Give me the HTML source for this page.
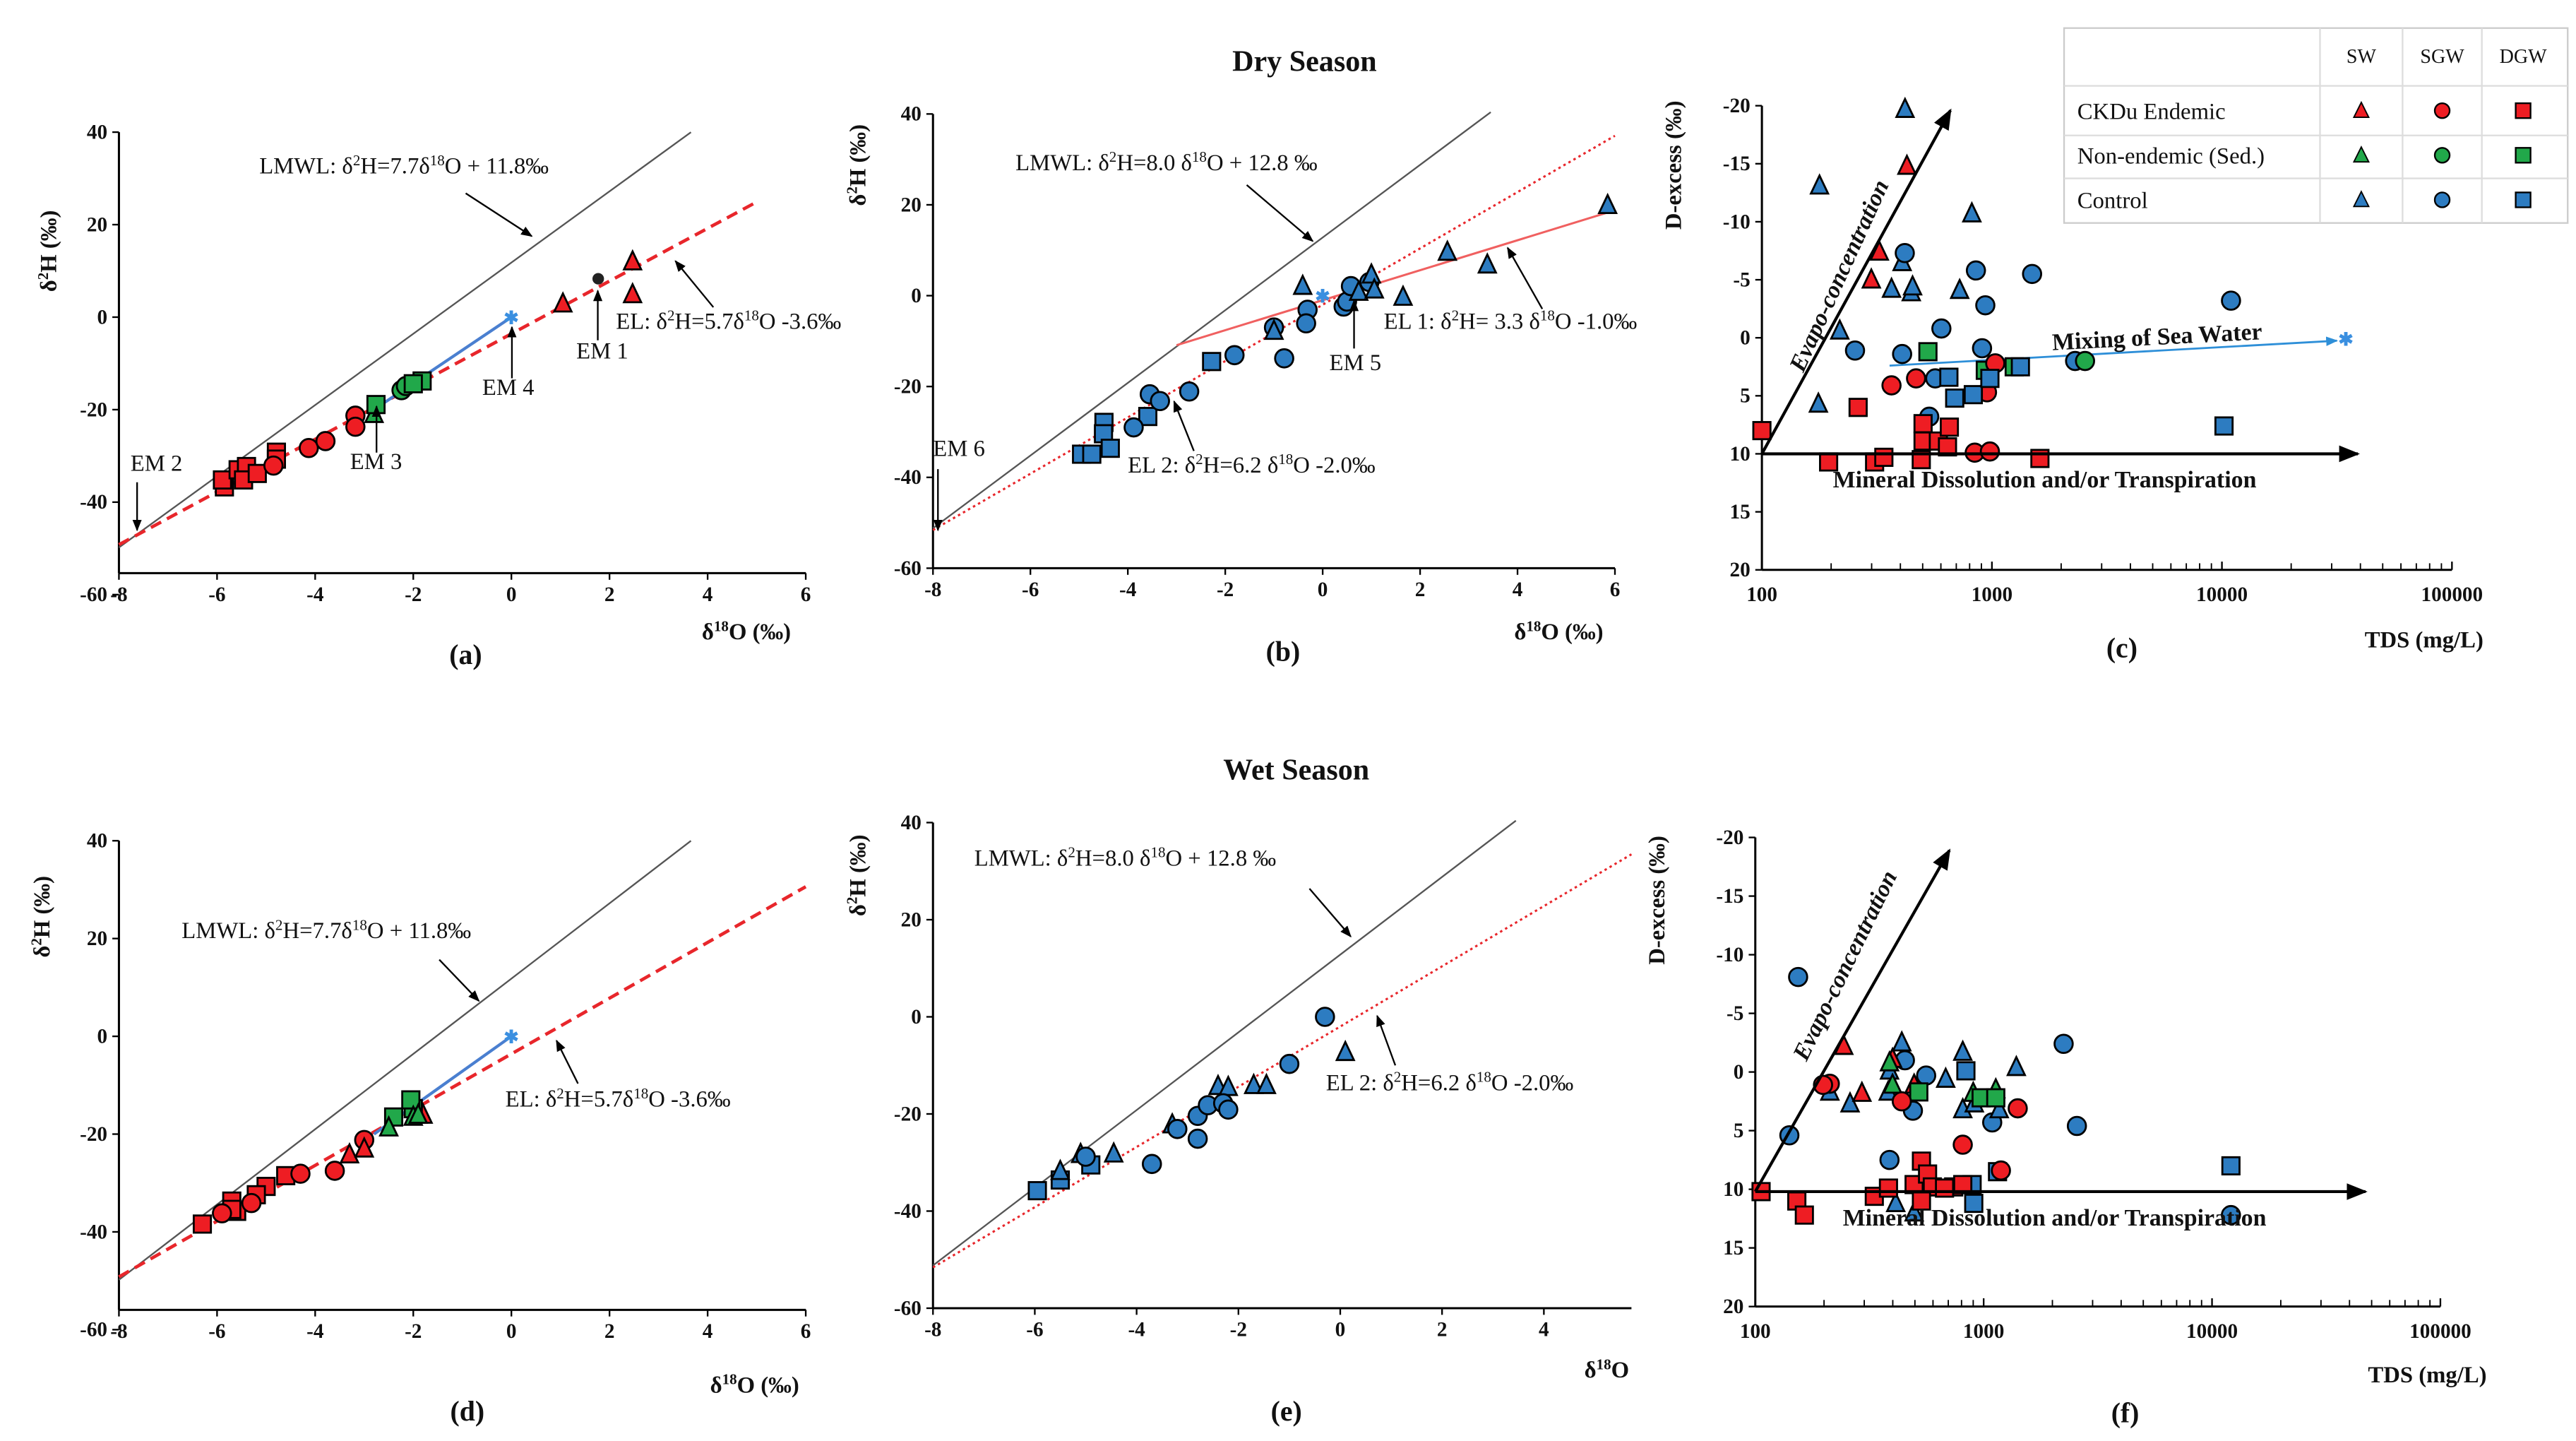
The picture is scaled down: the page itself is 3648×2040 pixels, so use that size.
<!DOCTYPE html>
<html><head><meta charset="utf-8"><title>Isotope charts</title>
<style>
html,body{margin:0;padding:0;background:#fff;}
svg{display:block;}
text{font-family:"Liberation Serif",serif;fill:#111;}
.tk{font-size:12.5px;font-weight:bold;}
.ann{font-size:14px;}
.bold{font-weight:bold;}
</style></head>
<body>
<svg id="fig" xmlns="http://www.w3.org/2000/svg" width="3648" height="2040" viewBox="0 0 1560 872.4">
<defs>
<marker id="ah" viewBox="0 0 10 10" refX="9" refY="5" markerWidth="7" markerHeight="7" orient="auto-start-reverse"><path d="M0,1 L10,5 L0,9 z" fill="#000"/></marker>
<marker id="ahb" viewBox="0 0 10 10" refX="9" refY="5" markerWidth="6" markerHeight="6" orient="auto"><path d="M0,1 L10,5 L0,9 z" fill="#2e8fd8"/></marker>
</defs>
<g id="root"></g>
</svg>
<script>
// ---------- DATA (panel a: dry season, δ18O vs δ2H) ----------
const aRedSquares=[[-5.85,-36.7],[-5.89,-35.2],[-5.57,-33.0],[-5.4,-32.3],[-5.46,-35.2],[-5.18,-33.8],[-4.79,-29.2],[-4.79,-30.7]];
const aRedCircles=[[-4.85,-32.1],[-4.13,-28.3],[-3.79,-26.8],[-3.18,-21.3],[-3.18,-23.7]];
const aRedTriangles=[[1.05,2.9],[2.47,12.0],[2.47,4.9]];
const aBlackCircles=[[1.77,8.3]];
const aGreenSquares=[[-2.76,-18.9],[-1.82,-13.8],[-2.0,-14.4]];
const aGreenCircles=[[-2.24,-15.8],[-2.15,-14.9]];
const aGreenTriangles=[[-2.8,-21]];
const aStar=[[0,0]];
// panel b
const bBlueSquares=[[-4.95,-34.9],[-4.74,-34.9],[-4.49,-27.9],[-4.5,-30.4],[-4.36,-33.6],[-3.59,-26.6],[-2.28,-14.5]];
const bBlueCircles=[[-3.88,-29.0],[-3.55,-21.7],[-3.34,-23.2],[-2.74,-21.1],[-1.81,-13.1],[-1.0,-7.0],[-0.79,-13.8],[-0.31,-3.1],[-0.34,-6.1],[0.43,-2.4],[0.5,-1.3],[0.58,2.1],[0.96,3.0]];
const bBlueTriangles=[[-0.41,2.1],[-1.0,-7.8],[0.74,0.8],[1.0,4.6],[1.06,1.3],[1.65,-0.3],[2.56,9.6],[3.38,6.8],[5.85,19.9]];
const bStar=[[0,0]];
// panel c (TDS mg/L, d-excess)
const cBlueTriangles=[[419,-19.7],[178,-13.1],[818,-10.7],[407,-6.5],[366,-4.2],[446,-3.9],[452,-4.4],[724,-4.1],[218,-0.6],[176,5.7]];
const cRedTriangles=[[427,-14.8],[324,-7.4],[299,-5.0]];
const cBlueCircles=[[418,-7.3],[852,-5.8],[1495,-5.5],[936,-2.8],[603,-0.8],[254,1.1],[407,1.4],[906,0.9],[567,3.5],[534,6.8],[10950,-3.2],[2300,2.0]];
const cGreenCircles=[[2540,2.0]];
const cGreenSquares=[[527,1.2],[936,2.8],[1250,2.5]];
const cRedCircles=[[366,4.1],[468,3.5],[952,4.7],[1034,2.2],[842,9.9],[980,9.8]];
const cBlueSquares=[[650,3.4],[689,5.2],[830,4.9],[980,3.5],[1330,2.5],[10210,7.6]];
const cRedSquares=[[100,8.0],[262,6.0],[502,7.4],[502,8.9],[585,8.9],[653,7.7],[641,9.4],[195,10.7],[309,10.7],[339,10.3],[493,10.5],[1617,10.4]];
const cSeaStar=[[34600,0.1]];
// panel d
const dRedSquares=[[-6.3,-38.4],[-5.7,-33.7],[-5.6,-35.8],[-5.0,-30.7],[-5.2,-32.4],[-4.6,-28.5],[-5.7,-35.4]];
const dRedCircles=[[-5.9,-36.2],[-5.3,-34.1],[-4.3,-28.1],[-3.6,-27.5],[-3.0,-21.2]];
const dRedTriangles=[[-3.3,-24.2],[-3.0,-23.0],[-1.8,-16.1]];
const dGreenTriangles=[[-2.5,-18.7],[-2.0,-16.5],[-1.9,-16.1]];
const dGreenSquares=[[-2.4,-16.5],[-2.0,-14.8],[-2.05,-13.0]];
const dStar=[[0,0]];
// panel e
const eBlueSquares=[[-5.95,-35.8],[-5.5,-33.6],[-4.9,-30.5]];
const eBlueTriangles=[[-5.5,-31.8],[-5.1,-28.3],[-4.45,-28.2],[-3.3,-22.2],[-2.4,-14.3],[-2.2,-14.5],[-1.7,-14.1],[-1.45,-14.1],[0.1,-7.3]];
const eBlueCircles=[[-5.0,-28.8],[-3.7,-30.3],[-3.2,-23.1],[-2.8,-20.4],[-2.8,-25.1],[-2.6,-18.2],[-2.3,-17.8],[-2.2,-19.1],[-1.0,-9.7],[-0.3,0]];
// panel f
const fBlueCircles=[[154,-8.1],[141,5.4],[452,-1.0],[560,0.3],[490,3.3],[1090,4.3],[2240,-2.4],[2560,4.6],[387,7.5],[12100,12.2]];
const fBlueTriangles=[[438,-2.5],[387,-0.1],[382,1.7],[212,1.7],[260,2.7],[682,0.6],[810,-1.7],[810,3.2],[910,2.7],[1170,3.2],[1390,-0.4],[412,11.2],[496,12.0]];
const fRedTriangles=[[244,-2.2],[293,1.8],[399,-1.1],[496,1.1]];
const fGreenTriangles=[[387,-0.8],[399,1.1],[1130,1.5],[900,1.8]];
const fGreenSquares=[[520,1.7],[975,2.2],[1130,2.2]];
const fBlueSquares=[[836,-0.1],[890,9.6],[905,11.2],[1150,8.5],[12100,8.0]];
const fRedCircles=[[212,1.0],[438,2.5],[810,6.2],[1410,3.1],[1190,8.4],[198,1.1]];
const fRedSquares=[[106,10.2],[152,11.0],[164,12.2],[332,10.6],[383,9.9],[496,9.6],[534,7.6],[568,8.7],[596,9.8],[534,11.0],[739,9.8],[674,9.9],[810,9.6]];
// tick labels
const isoXTicks=[-8,-6,-4,-2,0,2,4,6];
const isoXTicksE=[-8,-6,-4,-2,0,2,4];
const isoYTicks=[40,20,0,-20,-40,-60];
const tdsXTicks=[100,1000,10000,100000];
const dexYTicks=[-20,-15,-10,-5,0,5,10,15,20];
// lines (slope, intercept)
const lmwlA=[7.7,11.8], elA=[5.7,-3.6], lmwlB=[8.0,12.8], el1B=[3.3,-1.0], el2B=[6.2,-2.0];

// ---------- DRAWING ----------
const NS="http://www.w3.org/2000/svg";
const root=document.getElementById('root');
const RED="#ee1d23",GREEN="#21a84a",BLUE="#2d7cc1";
function el(tag,attrs,parent){const e=document.createElementNS(NS,tag);for(const k in attrs)e.setAttribute(k,attrs[k]);(parent||root).appendChild(e);return e;}
function txt(x,y,s,cls,extra,parent){const t=el('text',Object.assign({x:x,y:y,class:cls||''},extra||{}),parent);t.innerHTML=s;return t;}

function isoAxes(px0,kx,py40,ky){return {X:v=>px0+(v+8)*kx,Y:v=>py40+(40-v)*ky};}
function logAxes(px100,kd,pyTop,ky){return {X:v=>px100+(Math.log10(v)-2)*kd,Y:v=>pyTop+(v+20)*ky};}

function marker(g,shape,color,x,y,name){
  let m;const r=5.2;
  if(shape==='sq') m=el('rect',{x:x-r,y:y-r,width:2*r,height:2*r,fill:color,stroke:'#000','stroke-width':1.2},g);
  else if(shape==='ci') m=el('circle',{cx:x,cy:y,r:r+0.3,fill:color,stroke:'#000','stroke-width':1.2},g);
  else if(shape==='tr') m=el('polygon',{points:`${x},${y-r-1} ${x+r},${y+r-0.5} ${x-r},${y+r-0.5}`,fill:color,stroke:'#000','stroke-width':1.2},g);
  else if(shape==='st'){m=el('text',{x:x,y:y+4,'text-anchor':'middle','font-size':'11px',style:'fill:#3a8fe0;font-weight:bold'},g);m.textContent='✱';}
  
  
}
function series(g,ax,data,shape,color,name){data.forEach(d=>marker(g,shape,color,ax.X(d[0]),ax.Y(d[1]),name));}
function fitLine(g,ax,coef,x0,x1,style,name){
  const l=el('line',Object.assign({x1:ax.X(x0),y1:ax.Y(coef[0]*x0+coef[1]),x2:ax.X(x1),y2:ax.Y(coef[0]*x1+coef[1])},style),g);
  
  
}
function arrow(g,x1,y1,x2,y2,w,name){
  const l=el('line',{x1:x1,y1:y1,x2:x2,y2:y2,stroke:'#000','stroke-width':w||1,'marker-end':'url(#ah)'},g);
  
  
}

function isoFrame(g,ax,xt,axisY,xEnd){
  el('line',{x1:ax.X(-8),y1:ax.Y(40),x2:ax.X(-8),y2:axisY,stroke:'#000','stroke-width':1.3},g);
  el('line',{x1:ax.X(-8),y1:axisY,x2:xEnd,y2:axisY,stroke:'#000','stroke-width':1.3},g);
  xt.forEach(v=>{el('line',{x1:ax.X(v),y1:axisY,x2:ax.X(v),y2:axisY+4,stroke:'#000'},g);
    const t=txt(ax.X(v),axisY+17,String(v),'tk',{'text-anchor':'middle'},g);
    
    });
  isoYTicks.forEach(v=>{el('line',{x1:ax.X(-8)-4,y1:ax.Y(v),x2:ax.X(-8),y2:ax.Y(v),stroke:'#000'},g);
    const t=txt(ax.X(-8)-7,ax.Y(v)+4,String(v),'tk',{'text-anchor':'end'},g);
    
    });
}
function logFrame(g,ax){
  const x0=ax.X(100),x1=ax.X(100000),y0=ax.Y(-20),y1=ax.Y(20);
  el('line',{x1:x0,y1:y0,x2:x0,y2:y1,stroke:'#000','stroke-width':1.3},g);
  el('line',{x1:x0,y1:y1,x2:x1,y2:y1,stroke:'#000','stroke-width':1.3},g);
  for(let d=100;d<100000;d*=10)for(let k=2;k<=9;k++){el('line',{x1:ax.X(d*k),y1:y1,x2:ax.X(d*k),y2:y1-4,stroke:'#000','stroke-width':0.8},g);}
  tdsXTicks.forEach(v=>{el('line',{x1:ax.X(v),y1:y1,x2:ax.X(v),y2:y1-5,stroke:'#000'},g);
    const t=txt(ax.X(v),y1+19,String(v),'tk',{'text-anchor':'middle'},g);
    
    });
  dexYTicks.forEach(v=>{el('line',{x1:x0-4,y1:ax.Y(v),x2:x0,y2:ax.Y(v),stroke:'#000'},g);
    const t=txt(x0-7,ax.Y(v)+4,String(v),'tk',{'text-anchor':'end'},g);
    
    });
}
function grp(name){const g=el('g',{});return g;}
const D2H='δ<tspan font-size="9" dy="-5">2</tspan><tspan dy="5">H</tspan>';
const D18='δ<tspan font-size="9" dy="-5">18</tspan><tspan dy="5">O</tspan>';

let t=txt(790,43,'Dry Season','bold',{'text-anchor':'middle','font-size':'18px'});
t=txt(785,472,'Wet Season','bold',{'text-anchor':'middle','font-size':'18px'});

function yLabelIso(g,x,y){const t=txt(0,0,'δ<tspan font-size="9" dy="-5">2</tspan><tspan dy="5">H (‰)</tspan>','bold',{'font-size':'14px','text-anchor':'middle',transform:`translate(${x},${y}) rotate(-90)`},g);}
function xLabelIso(g,x,y,s){const t=txt(x,y,s,'bold',{'font-size':'14px','text-anchor':'middle'},g);}
function panelLabel(g,x,y,s){const t=txt(x,y,s,'bold',{'font-size':'17px','text-anchor':'middle'},g);}
function ann(g,x,y,s,name,size){const t=txt(x,y,s,'ann',{'font-size':(size||14)+'px'},g);}

// ----- panel a -----
(function(){
 const g=grp('panel-a');const ax=isoAxes(72,29.71,80,2.8);
 isoFrame(g,ax,isoXTicks,347,488);
 fitLine(g,ax,lmwlA,-8,3.66,{stroke:'#555','stroke-width':1},'lmwl-line');
 fitLine(g,ax,elA,-8,5,{stroke:'#e8262b','stroke-width':2,'stroke-dasharray':'7,4'},'evaporation-line');
 const bl=el('line',{x1:ax.X(-2.8),y1:ax.Y(-20),x2:ax.X(0),y2:ax.Y(0),stroke:'#4a7fd0','stroke-width':1.8},g);
 series(g,ax,aRedSquares,'sq',RED,'ckdu-dgw-point');
 series(g,ax,aRedCircles,'ci',RED,'ckdu-sgw-point');
 series(g,ax,aGreenTriangles,'tr',GREEN,'nonendemic-sw-point');
 series(g,ax,aGreenCircles,'ci',GREEN,'nonendemic-sgw-point');
 series(g,ax,aGreenSquares,'sq',GREEN,'nonendemic-dgw-point');
 series(g,ax,aRedTriangles,'tr',RED,'ckdu-sw-point');
 aBlackCircles.forEach(d=>{const c=el('circle',{cx:ax.X(d[0]),cy:ax.Y(d[1]),r:3.5,fill:'#222'},g);});
 series(g,ax,aStar,'st',BLUE,'em4-star');
 ann(g,157,105,'LMWL: '+D2H+'=7.7'+D18+' + 11.8‰','lmwl-label');
 arrow(g,282,117,322,143,1,'lmwl-arrow');
 ann(g,373,199,'EL: '+D2H+'=5.7'+D18+' -3.6‰','el-label');
 arrow(g,432,186,409,158,1,'el-arrow');
 ann(g,349,217,'EM 1','em1-label',13);arrow(g,362,206,362,176,1,'em1-arrow');
 ann(g,292,239,'EM 4','em4-label',13);arrow(g,310,229,310,198,1,'em4-arrow');
 ann(g,212,284,'EM 3','em3-label',13);arrow(g,228,274,228,246,1,'em3-arrow');
 ann(g,79,285,'EM 2','em2-label',13);arrow(g,83,292,83,321,1,'em2-arrow');
 yLabelIso(g,34,152);xLabelIso(g,452,387,'δ<tspan font-size="9" dy="-5">18</tspan><tspan dy="5">O (‰)</tspan>');panelLabel(g,282,402,'(a)');
})();
// ----- panel b -----
(function(){
 const g=grp('panel-b');const ax=isoAxes(565,29.5,69,2.75);
 isoFrame(g,ax,isoXTicks,344,978);
 fitLine(g,ax,lmwlB,-8,3.45,{stroke:'#555','stroke-width':1},'lmwl-line');
 fitLine(g,ax,el2B,-8,6,{stroke:'#e8262b','stroke-width':1.3,'stroke-dasharray':'1.5,2'},'el2-line');
 fitLine(g,ax,el1B,-3.0,5.85,{stroke:'#f06060','stroke-width':1.3},'el1-line');
 series(g,ax,bBlueSquares,'sq',BLUE,'control-dgw-point');
 series(g,ax,bBlueCircles,'ci',BLUE,'control-sgw-point');
 series(g,ax,bBlueTriangles,'tr',BLUE,'control-sw-point');
 series(g,ax,bStar,'st',BLUE,'em5-star');
 ann(g,615,103,'LMWL: '+D2H+'=8.0 '+D18+' + 12.8 ‰','lmwl-label');
 arrow(g,755,112,795,146,1,'lmwl-arrow');
 ann(g,838,199,'EL 1: '+D2H+'= 3.3 '+D18+' -1.0‰','el1-label');
 arrow(g,934,187,913,150,1,'el1-arrow');
 ann(g,805,224,'EM 5','em5-label',13);arrow(g,820,211,820,182,1,'em5-arrow');
 ann(g,683,286,'EL 2: '+D2H+'=6.2 '+D18+' -2.0‰','el2-label');
 arrow(g,723,273,711,243,1,'el2-arrow');
 ann(g,565,276,'EM 6','em6-label',13);arrow(g,568,284,568,321,1,'em6-arrow');
 yLabelIso(g,524,100);xLabelIso(g,944,387,'δ<tspan font-size="9" dy="-5">18</tspan><tspan dy="5">O (‰)</tspan>');panelLabel(g,777,400,'(b)');
})();
// ----- panel c -----
function dexPanel(g,ax,yl,xl,lab){
 logFrame(g,ax);
 let t=txt(0,0,'D-excess (‰)','bold',{'font-size':'14px','text-anchor':'middle',transform:`translate(${yl[0]},${yl[1]}) rotate(-90)`},g);
 t=txt(xl[0],xl[1],'TDS (mg/L)','bold',{'font-size':'14px','text-anchor':'middle'},g);
 panelLabel(g,lab[0],lab[1],lab[2]);
}
(function(){
 const g=grp('panel-c');const ax=logAxes(1067,139.3,64,7.025);
 dexPanel(g,ax,[1018,100],[1468,392],[1285,398,'(c)']);
 const sea=el('line',{x1:ax.X(359),y1:ax.Y(2.4),x2:ax.X(31600),y2:ax.Y(0.25),stroke:'#2e8fd8','stroke-width':1.2,'marker-end':'url(#ahb)'},g);
 series(g,ax,cBlueTriangles,'tr',BLUE,'control-sw-point');
 series(g,ax,cRedTriangles,'tr',RED,'ckdu-sw-point');
 series(g,ax,cBlueCircles,'ci',BLUE,'control-sgw-point');
 series(g,ax,cGreenCircles,'ci',GREEN,'nonendemic-sgw-point');
 series(g,ax,cGreenSquares,'sq',GREEN,'nonendemic-dgw-point');
 series(g,ax,cRedCircles,'ci',RED,'ckdu-sgw-point');
 series(g,ax,cBlueSquares,'sq',BLUE,'control-dgw-point');
 series(g,ax,cRedSquares,'sq',RED,'ckdu-dgw-point');
 series(g,ax,cSeaStar,'st',BLUE,'sea-water-star');
 arrow(g,ax.X(100),ax.Y(10),ax.X(39000),ax.Y(10),1.8,'mineral-dissolution-arrow');
 arrow(g,ax.X(100),ax.Y(10),ax.X(660),ax.Y(-19.6),1.8,'evapo-arrow');
 let t=txt(0,0,'Evapo-concentration','bold',{'font-size':'14.5px','font-style':'italic',transform:`translate(1092,226) rotate(-65.5)`},g);
 t=txt(1243,212,'Mixing of Sea Water','bold',{'font-size':'14.5px',transform:'rotate(-3 1243 212)'},g);
 t=txt(1110,295,'Mineral Dissolution and/or Transpiration','bold',{'font-size':'14.5px'},g);
})();
// ----- legend table -----
(function(){
 const g=grp('legend-table');
 el('rect',{x:1250,y:17,width:305,height:118,fill:'#fff',stroke:'#ccc','stroke-width':1},g);
 [52,82,108].forEach(y=>el('line',{x1:1250,y1:y,x2:1555,y2:y,stroke:'#ddd'},g));
 [1405,1455,1503].forEach(x=>el('line',{x1:x,y1:17,x2:x,y2:135,stroke:'#ddd'},g));
 const cols=[1430,1479,1528];
 ['SW','SGW','DGW'].forEach((s,i)=>{const t=txt(cols[i],38,s,'',{'font-size':'12px','text-anchor':'middle'},g);});
 const rows=[['CKDu Endemic',RED,67],['Non-endemic (Sed.)',GREEN,94],['Control',BLUE,121]];
 rows.forEach(r=>{const t=txt(1258,r[2]+5,r[0],'',{'font-size':'14px'},g);
   const gg=el('g',{},g);
   el('polygon',{points:`${cols[0]},${r[2]-5} ${cols[0]+4.5},${r[2]+4} ${cols[0]-4.5},${r[2]+4}`,fill:r[1],stroke:'#000','stroke-width':0.8},gg);
   el('circle',{cx:cols[1],cy:r[2],r:4.5,fill:r[1],stroke:'#000','stroke-width':1},gg);
   el('rect',{x:cols[2]-4.5,y:r[2]-4.5,width:9,height:9,fill:r[1],stroke:'#000','stroke-width':1},gg);
   });
})();
// ----- panel d -----
(function(){
 const g=grp('panel-d');const ax=isoAxes(72,29.71,509,2.96);
 isoFrame(g,ax,isoXTicks,793,488);
 fitLine(g,ax,lmwlA,-8,3.66,{stroke:'#555','stroke-width':1},'lmwl-line');
 fitLine(g,ax,elA,-8,6,{stroke:'#e8262b','stroke-width':2,'stroke-dasharray':'7,4'},'evaporation-line');
 const bl=el('line',{x1:ax.X(-2.8),y1:ax.Y(-20),x2:ax.X(0),y2:ax.Y(0),stroke:'#4a7fd0','stroke-width':1.8},g);
 series(g,ax,dRedSquares,'sq',RED,'ckdu-dgw-point');
 series(g,ax,dRedCircles,'ci',RED,'ckdu-sgw-point');
 series(g,ax,dRedTriangles,'tr',RED,'ckdu-sw-point');
 series(g,ax,dGreenSquares,'sq',GREEN,'nonendemic-dgw-point');
 series(g,ax,dGreenTriangles,'tr',GREEN,'nonendemic-sw-point');
 series(g,ax,dStar,'st',BLUE,'em4-star');
 ann(g,110,568,'LMWL: '+D2H+'=7.7'+D18+' + 11.8‰','lmwl-label');
 arrow(g,266,581,290,606,1,'lmwl-arrow');
 ann(g,306,670,'EL: '+D2H+'=5.7'+D18+' -3.6‰','el-label');
 arrow(g,350,656,337,630,1,'el-arrow');
 yLabelIso(g,30,555);xLabelIso(g,457,843,'δ<tspan font-size="9" dy="-5">18</tspan><tspan dy="5">O (‰)</tspan>');panelLabel(g,283,860,'(d)');
})();
// ----- panel e -----
(function(){
 const g=grp('panel-e');const ax=isoAxes(565,30.83,498,2.94);
 isoFrame(g,ax,isoXTicksE,792,988);
 fitLine(g,ax,lmwlB,-8,3.45,{stroke:'#555','stroke-width':1},'lmwl-line');
 fitLine(g,ax,el2B,-8,5.72,{stroke:'#e8262b','stroke-width':1.3,'stroke-dasharray':'1.5,2'},'el2-line');
 series(g,ax,eBlueSquares,'sq',BLUE,'control-dgw-point');
 series(g,ax,eBlueTriangles,'tr',BLUE,'control-sw-point');
 series(g,ax,eBlueCircles,'ci',BLUE,'control-sgw-point');
 ann(g,590,524,'LMWL: '+D2H+'=8.0 '+D18+' + 12.8 ‰','lmwl-label');
 arrow(g,793,538,818,567,1,'lmwl-arrow');
 ann(g,803,660,'EL 2: '+D2H+'=6.2 '+D18+' -2.0‰','el2-label');
 arrow(g,845,645,834,615,1,'el2-arrow');
 yLabelIso(g,524,530);xLabelIso(g,973,834,'δ<tspan font-size="9" dy="-5">18</tspan><tspan dy="5">O</tspan>');panelLabel(g,779,860,'(e)');
})();
// ----- panel f -----
(function(){
 const g=grp('panel-f');const ax=logAxes(1063,138.3,507,7.1);
 dexPanel(g,ax,[1008,545],[1470,837],[1287,861,'(f)']);
 series(g,ax,fBlueCircles,'ci',BLUE,'control-sgw-point');
 series(g,ax,fBlueTriangles,'tr',BLUE,'control-sw-point');
 series(g,ax,fRedTriangles,'tr',RED,'ckdu-sw-point');
 series(g,ax,fGreenTriangles,'tr',GREEN,'nonendemic-sw-point');
 series(g,ax,fGreenSquares,'sq',GREEN,'nonendemic-dgw-point');
 series(g,ax,fBlueSquares,'sq',BLUE,'control-dgw-point');
 series(g,ax,fRedCircles,'ci',RED,'ckdu-sgw-point');
 series(g,ax,fRedSquares,'sq',RED,'ckdu-dgw-point');
 arrow(g,ax.X(100),ax.Y(10.2),ax.X(47000),ax.Y(10.2),1.8,'mineral-dissolution-arrow');
 arrow(g,ax.X(100),ax.Y(10.2),ax.X(708),ax.Y(-18.9),1.8,'evapo-arrow');
 let t=txt(0,0,'Evapo-concentration','bold',{'font-size':'14.5px','font-style':'italic',transform:`translate(1094,643) rotate(-64)`},g);
 t=txt(1116,742,'Mineral Dissolution and/or Transpiration','bold',{'font-size':'14.5px'},g);
})();
</script>
</body></html>
